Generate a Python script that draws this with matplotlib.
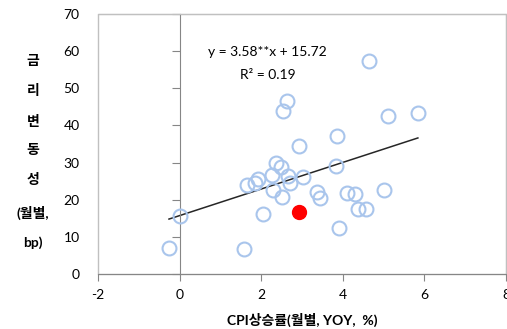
import matplotlib
matplotlib.use("Agg")
import matplotlib.pyplot as plt
import numpy as np

plt.rcParams['font.family'] = ['Lato', 'Noto Sans CJK KR', 'DejaVu Sans']
plt.rcParams['axes.unicode_minus'] = False

# CPI 상승률(%) vs 금리 변동성(bp), 월별
cpi = [-0.26, 0.02, 1.59, 2.05, 1.66, 1.86, 1.92, 2.26, 2.37, 2.48,
       2.30, 2.52, 2.65, 2.71, 3.02, 2.92, 3.36, 3.45, 4.64, 2.64,
       2.54, 5.10, 5.84, 3.86, 3.84, 4.10, 4.31, 5.02, 4.37, 4.58, 3.90]
vol = [6.9, 15.6, 6.6, 16.1, 23.9, 24.6, 25.6, 26.6, 29.9, 28.7,
       22.7, 20.7, 26.4, 24.5, 26.1, 34.4, 22.2, 20.5, 57.3, 46.6,
       43.8, 42.5, 43.3, 37.1, 29.0, 21.9, 21.5, 22.6, 17.6, 17.6, 12.5]
latest_cpi = [2.92]
latest_vol = [16.8]

slope = 3.58
intercept = 15.72
r2 = 0.19

fig = plt.figure(figsize=(5.07, 3.29), dpi=100)
ax = fig.add_axes([98/507, 55/329, 408/507, 260/329])

ax.plot(cpi, vol, 'o', ms=10, mfc='none', mec='#a9c5ec', mew=1.5, zorder=3)
ax.plot(latest_cpi, latest_vol, 'o', ms=10, color='#ff0000', zorder=4)

xs = np.array([min(cpi), max(cpi)])
ax.plot(xs, slope * xs + intercept, color='#262626', lw=1.1, zorder=2)

ax.text(2.15, 59.8, 'y = %.2f**x + %.2f' % (slope, intercept),
        ha='center', va='center', fontsize=10)
ax.text(2.15, 53.6, 'R² = %.2f' % r2, ha='center', va='center', fontsize=10)

ax.set_xlim(-2, 8)
ax.set_ylim(0, 70)
ax.set_xticks(np.arange(-2, 9, 2))
ax.set_yticks(np.arange(0, 71, 10))

# y축은 x=0 위치에 그리고, 눈금 글자는 왼쪽 테두리 바깥에
ax.spines['left'].set_position(('data', 0))
ax.spines['left'].set_color('#868686')
ax.spines['bottom'].set_color('#868686')
for s in ['top', 'right']:
    ax.spines[s].set_color('#c0c0c0')
ax.patch.set_edgecolor('#c0c0c0')
ax.patch.set_linewidth(1)

ax.tick_params(axis='y', direction='out', length=6, color='#868686',
               pad=66, labelsize=10)
ax.tick_params(axis='x', direction='out', length=5, color='#868686',
               pad=6, labelsize=10)

ax.set_xlabel('CPI상승률(월별, YOY,  %)', fontsize=10, fontweight='bold',
              labelpad=8)
fig.text(33/507, 1 - 152/329, '금\n리\n변\n동\n성\n(월별,\nbp)',
         ha='center', va='center', fontsize=10, fontweight='bold',
         linespacing=2.6)

fig.savefig('out.png', dpi=100)
